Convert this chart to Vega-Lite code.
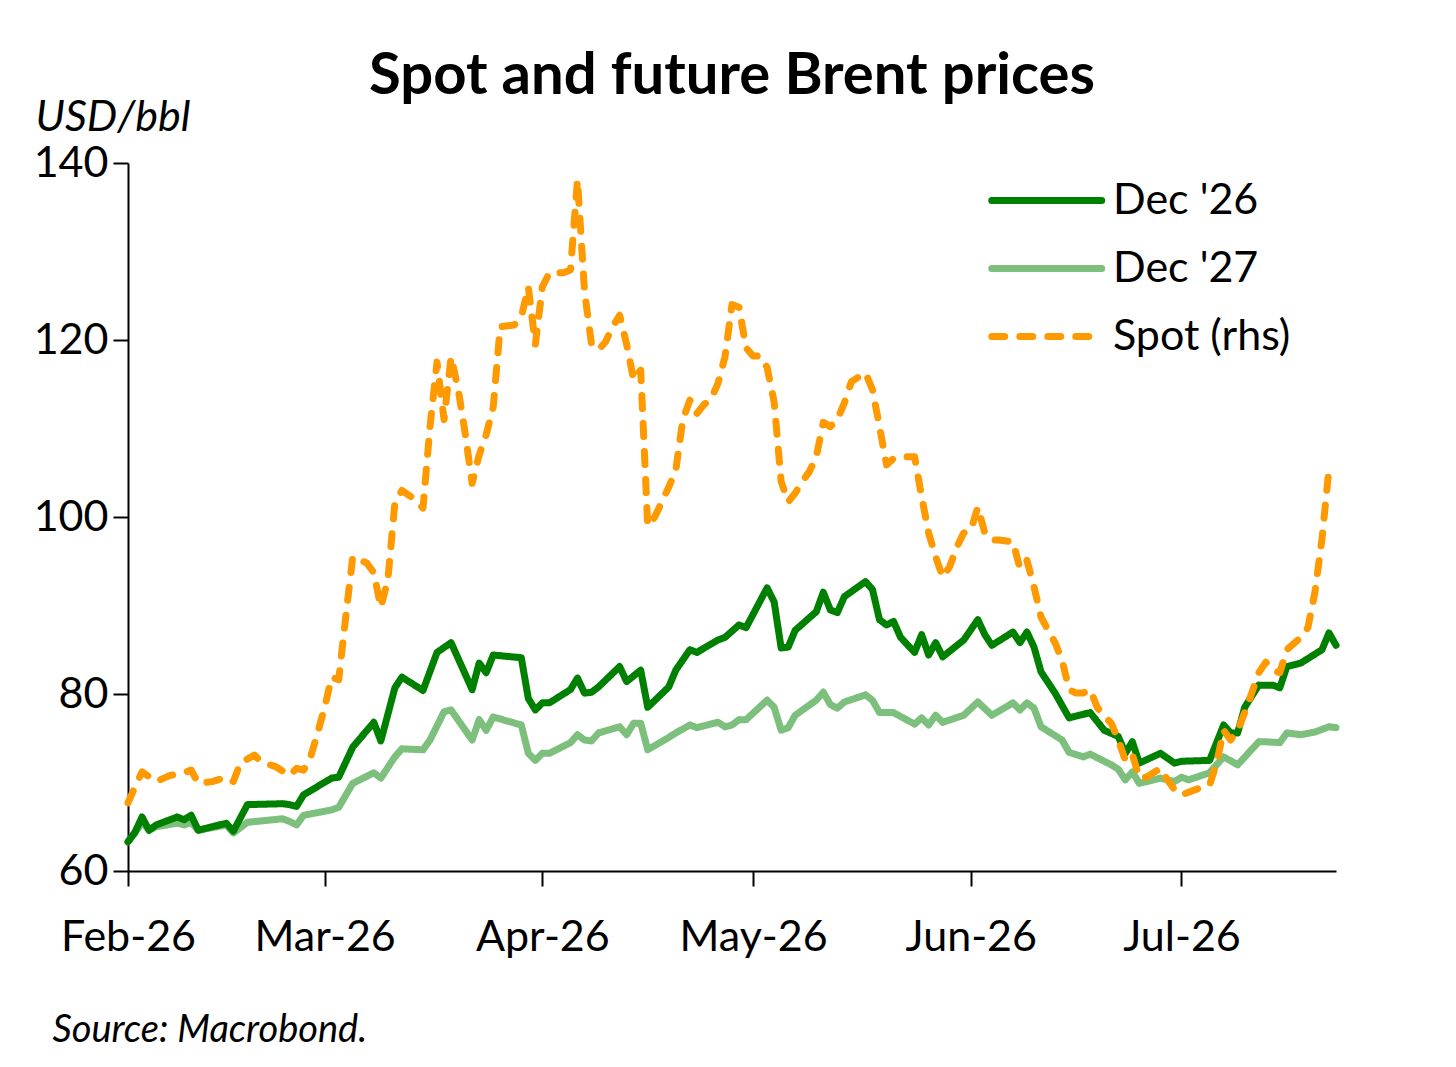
{
  "$schema": "https://vega.github.io/schema/vega-lite/v6.json",
  "autosize": "none",
  "width": 1208,
  "height": 708,
  "padding": {"left": 128, "top": 163, "right": 120, "bottom": 196},
  "background": "white",
  "title": {
    "text": "Spot and future Brent prices",
    "font": "Lato",
    "fontSize": 58,
    "fontWeight": "bold",
    "color": "black",
    "anchor": "middle",
    "frame": "group",
    "offset": -10
  },
  "data": {
    "values": [
      {"s": "Dec '27", "d": "2026-02-01", "v": 63.3},
      {"s": "Dec '27", "d": "2026-02-02", "v": 64.3},
      {"s": "Dec '27", "d": "2026-02-03", "v": 65.5},
      {"s": "Dec '27", "d": "2026-02-04", "v": 64.6},
      {"s": "Dec '27", "d": "2026-02-05", "v": 65.0},
      {"s": "Dec '27", "d": "2026-02-08", "v": 65.4},
      {"s": "Dec '27", "d": "2026-02-09", "v": 65.2},
      {"s": "Dec '27", "d": "2026-02-10", "v": 65.5},
      {"s": "Dec '27", "d": "2026-02-11", "v": 64.6},
      {"s": "Dec '27", "d": "2026-02-15", "v": 65.2},
      {"s": "Dec '27", "d": "2026-02-16", "v": 64.3},
      {"s": "Dec '27", "d": "2026-02-18", "v": 65.5},
      {"s": "Dec '27", "d": "2026-02-23", "v": 65.9},
      {"s": "Dec '27", "d": "2026-02-24", "v": 65.6},
      {"s": "Dec '27", "d": "2026-02-25", "v": 65.2},
      {"s": "Dec '27", "d": "2026-02-26", "v": 66.3},
      {"s": "Dec '27", "d": "2026-03-02", "v": 66.9},
      {"s": "Dec '27", "d": "2026-03-03", "v": 67.2},
      {"s": "Dec '27", "d": "2026-03-05", "v": 69.9},
      {"s": "Dec '27", "d": "2026-03-08", "v": 71.1},
      {"s": "Dec '27", "d": "2026-03-09", "v": 70.5},
      {"s": "Dec '27", "d": "2026-03-11", "v": 72.9},
      {"s": "Dec '27", "d": "2026-03-12", "v": 73.8},
      {"s": "Dec '27", "d": "2026-03-15", "v": 73.7},
      {"s": "Dec '27", "d": "2026-03-16", "v": 74.8},
      {"s": "Dec '27", "d": "2026-03-18", "v": 78.0},
      {"s": "Dec '27", "d": "2026-03-19", "v": 78.2},
      {"s": "Dec '27", "d": "2026-03-22", "v": 74.8},
      {"s": "Dec '27", "d": "2026-03-23", "v": 77.1},
      {"s": "Dec '27", "d": "2026-03-24", "v": 75.9},
      {"s": "Dec '27", "d": "2026-03-25", "v": 77.4},
      {"s": "Dec '27", "d": "2026-03-29", "v": 76.5},
      {"s": "Dec '27", "d": "2026-03-30", "v": 73.3},
      {"s": "Dec '27", "d": "2026-03-31", "v": 72.5},
      {"s": "Dec '27", "d": "2026-04-01", "v": 73.3},
      {"s": "Dec '27", "d": "2026-04-02", "v": 73.3},
      {"s": "Dec '27", "d": "2026-04-05", "v": 74.5},
      {"s": "Dec '27", "d": "2026-04-06", "v": 75.4},
      {"s": "Dec '27", "d": "2026-04-07", "v": 74.8},
      {"s": "Dec '27", "d": "2026-04-08", "v": 74.7},
      {"s": "Dec '27", "d": "2026-04-09", "v": 75.6},
      {"s": "Dec '27", "d": "2026-04-12", "v": 76.3},
      {"s": "Dec '27", "d": "2026-04-13", "v": 75.4},
      {"s": "Dec '27", "d": "2026-04-14", "v": 76.7},
      {"s": "Dec '27", "d": "2026-04-15", "v": 76.7},
      {"s": "Dec '27", "d": "2026-04-16", "v": 73.7},
      {"s": "Dec '27", "d": "2026-04-19", "v": 75.1},
      {"s": "Dec '27", "d": "2026-04-20", "v": 75.6},
      {"s": "Dec '27", "d": "2026-04-22", "v": 76.5},
      {"s": "Dec '27", "d": "2026-04-23", "v": 76.2},
      {"s": "Dec '27", "d": "2026-04-26", "v": 76.8},
      {"s": "Dec '27", "d": "2026-04-27", "v": 76.3},
      {"s": "Dec '27", "d": "2026-04-28", "v": 76.5},
      {"s": "Dec '27", "d": "2026-04-29", "v": 77.1},
      {"s": "Dec '27", "d": "2026-04-30", "v": 77.1},
      {"s": "Dec '27", "d": "2026-05-03", "v": 79.3},
      {"s": "Dec '27", "d": "2026-05-04", "v": 78.5},
      {"s": "Dec '27", "d": "2026-05-05", "v": 75.9},
      {"s": "Dec '27", "d": "2026-05-06", "v": 76.2},
      {"s": "Dec '27", "d": "2026-05-07", "v": 77.6},
      {"s": "Dec '27", "d": "2026-05-10", "v": 79.3},
      {"s": "Dec '27", "d": "2026-05-11", "v": 80.2},
      {"s": "Dec '27", "d": "2026-05-12", "v": 78.8},
      {"s": "Dec '27", "d": "2026-05-13", "v": 78.4},
      {"s": "Dec '27", "d": "2026-05-14", "v": 79.1},
      {"s": "Dec '27", "d": "2026-05-17", "v": 79.9},
      {"s": "Dec '27", "d": "2026-05-18", "v": 79.3},
      {"s": "Dec '27", "d": "2026-05-19", "v": 77.9},
      {"s": "Dec '27", "d": "2026-05-21", "v": 77.9},
      {"s": "Dec '27", "d": "2026-05-24", "v": 76.6},
      {"s": "Dec '27", "d": "2026-05-25", "v": 77.3},
      {"s": "Dec '27", "d": "2026-05-26", "v": 76.5},
      {"s": "Dec '27", "d": "2026-05-27", "v": 77.6},
      {"s": "Dec '27", "d": "2026-05-28", "v": 76.8},
      {"s": "Dec '27", "d": "2026-05-31", "v": 77.6},
      {"s": "Dec '27", "d": "2026-06-02", "v": 79.1},
      {"s": "Dec '27", "d": "2026-06-04", "v": 77.6},
      {"s": "Dec '27", "d": "2026-06-07", "v": 79.0},
      {"s": "Dec '27", "d": "2026-06-08", "v": 78.2},
      {"s": "Dec '27", "d": "2026-06-09", "v": 79.0},
      {"s": "Dec '27", "d": "2026-06-10", "v": 78.4},
      {"s": "Dec '27", "d": "2026-06-11", "v": 76.3},
      {"s": "Dec '27", "d": "2026-06-14", "v": 74.8},
      {"s": "Dec '27", "d": "2026-06-15", "v": 73.4},
      {"s": "Dec '27", "d": "2026-06-17", "v": 72.9},
      {"s": "Dec '27", "d": "2026-06-18", "v": 73.2},
      {"s": "Dec '27", "d": "2026-06-21", "v": 72.0},
      {"s": "Dec '27", "d": "2026-06-22", "v": 71.5},
      {"s": "Dec '27", "d": "2026-06-23", "v": 70.3},
      {"s": "Dec '27", "d": "2026-06-24", "v": 71.2},
      {"s": "Dec '27", "d": "2026-06-25", "v": 69.9},
      {"s": "Dec '27", "d": "2026-06-28", "v": 70.5},
      {"s": "Dec '27", "d": "2026-06-30", "v": 70.1},
      {"s": "Dec '27", "d": "2026-07-01", "v": 70.6},
      {"s": "Dec '27", "d": "2026-07-02", "v": 70.3},
      {"s": "Dec '27", "d": "2026-07-05", "v": 71.1},
      {"s": "Dec '27", "d": "2026-07-07", "v": 72.9},
      {"s": "Dec '27", "d": "2026-07-09", "v": 72.0},
      {"s": "Dec '27", "d": "2026-07-12", "v": 74.6},
      {"s": "Dec '27", "d": "2026-07-13", "v": 74.6},
      {"s": "Dec '27", "d": "2026-07-15", "v": 74.5},
      {"s": "Dec '27", "d": "2026-07-16", "v": 75.6},
      {"s": "Dec '27", "d": "2026-07-18", "v": 75.4},
      {"s": "Dec '27", "d": "2026-07-20", "v": 75.7},
      {"s": "Dec '27", "d": "2026-07-22", "v": 76.3},
      {"s": "Dec '27", "d": "2026-07-23", "v": 76.2},

      {"s": "Dec '26", "d": "2026-02-01", "v": 63.3},
      {"s": "Dec '26", "d": "2026-02-02", "v": 64.4},
      {"s": "Dec '26", "d": "2026-02-03", "v": 66.1},
      {"s": "Dec '26", "d": "2026-02-04", "v": 64.6},
      {"s": "Dec '26", "d": "2026-02-05", "v": 65.2},
      {"s": "Dec '26", "d": "2026-02-08", "v": 66.1},
      {"s": "Dec '26", "d": "2026-02-09", "v": 65.8},
      {"s": "Dec '26", "d": "2026-02-10", "v": 66.3},
      {"s": "Dec '26", "d": "2026-02-11", "v": 64.6},
      {"s": "Dec '26", "d": "2026-02-15", "v": 65.4},
      {"s": "Dec '26", "d": "2026-02-16", "v": 64.5},
      {"s": "Dec '26", "d": "2026-02-18", "v": 67.5},
      {"s": "Dec '26", "d": "2026-02-23", "v": 67.6},
      {"s": "Dec '26", "d": "2026-02-24", "v": 67.5},
      {"s": "Dec '26", "d": "2026-02-25", "v": 67.3},
      {"s": "Dec '26", "d": "2026-02-26", "v": 68.6},
      {"s": "Dec '26", "d": "2026-03-02", "v": 70.5},
      {"s": "Dec '26", "d": "2026-03-03", "v": 70.6},
      {"s": "Dec '26", "d": "2026-03-05", "v": 74.0},
      {"s": "Dec '26", "d": "2026-03-08", "v": 76.8},
      {"s": "Dec '26", "d": "2026-03-09", "v": 74.7},
      {"s": "Dec '26", "d": "2026-03-11", "v": 80.7},
      {"s": "Dec '26", "d": "2026-03-12", "v": 81.9},
      {"s": "Dec '26", "d": "2026-03-15", "v": 80.4},
      {"s": "Dec '26", "d": "2026-03-17", "v": 84.7},
      {"s": "Dec '26", "d": "2026-03-19", "v": 85.8},
      {"s": "Dec '26", "d": "2026-03-22", "v": 80.5},
      {"s": "Dec '26", "d": "2026-03-23", "v": 83.5},
      {"s": "Dec '26", "d": "2026-03-24", "v": 82.4},
      {"s": "Dec '26", "d": "2026-03-25", "v": 84.4},
      {"s": "Dec '26", "d": "2026-03-29", "v": 84.1},
      {"s": "Dec '26", "d": "2026-03-30", "v": 79.5},
      {"s": "Dec '26", "d": "2026-03-31", "v": 78.2},
      {"s": "Dec '26", "d": "2026-04-01", "v": 79.0},
      {"s": "Dec '26", "d": "2026-04-02", "v": 79.0},
      {"s": "Dec '26", "d": "2026-04-05", "v": 80.5},
      {"s": "Dec '26", "d": "2026-04-06", "v": 81.8},
      {"s": "Dec '26", "d": "2026-04-07", "v": 80.1},
      {"s": "Dec '26", "d": "2026-04-08", "v": 80.2},
      {"s": "Dec '26", "d": "2026-04-09", "v": 80.8},
      {"s": "Dec '26", "d": "2026-04-12", "v": 83.1},
      {"s": "Dec '26", "d": "2026-04-13", "v": 81.4},
      {"s": "Dec '26", "d": "2026-04-15", "v": 82.7},
      {"s": "Dec '26", "d": "2026-04-16", "v": 78.5},
      {"s": "Dec '26", "d": "2026-04-19", "v": 80.8},
      {"s": "Dec '26", "d": "2026-04-20", "v": 82.7},
      {"s": "Dec '26", "d": "2026-04-22", "v": 85.0},
      {"s": "Dec '26", "d": "2026-04-23", "v": 84.7},
      {"s": "Dec '26", "d": "2026-04-26", "v": 86.1},
      {"s": "Dec '26", "d": "2026-04-27", "v": 86.4},
      {"s": "Dec '26", "d": "2026-04-29", "v": 87.8},
      {"s": "Dec '26", "d": "2026-04-30", "v": 87.5},
      {"s": "Dec '26", "d": "2026-05-03", "v": 92.0},
      {"s": "Dec '26", "d": "2026-05-04", "v": 90.4},
      {"s": "Dec '26", "d": "2026-05-05", "v": 85.2},
      {"s": "Dec '26", "d": "2026-05-06", "v": 85.3},
      {"s": "Dec '26", "d": "2026-05-07", "v": 87.2},
      {"s": "Dec '26", "d": "2026-05-10", "v": 89.3},
      {"s": "Dec '26", "d": "2026-05-11", "v": 91.5},
      {"s": "Dec '26", "d": "2026-05-12", "v": 89.5},
      {"s": "Dec '26", "d": "2026-05-13", "v": 89.2},
      {"s": "Dec '26", "d": "2026-05-14", "v": 91.0},
      {"s": "Dec '26", "d": "2026-05-17", "v": 92.7},
      {"s": "Dec '26", "d": "2026-05-18", "v": 91.8},
      {"s": "Dec '26", "d": "2026-05-19", "v": 88.4},
      {"s": "Dec '26", "d": "2026-05-20", "v": 87.8},
      {"s": "Dec '26", "d": "2026-05-21", "v": 88.2},
      {"s": "Dec '26", "d": "2026-05-22", "v": 86.4},
      {"s": "Dec '26", "d": "2026-05-24", "v": 84.7},
      {"s": "Dec '26", "d": "2026-05-25", "v": 86.7},
      {"s": "Dec '26", "d": "2026-05-26", "v": 84.4},
      {"s": "Dec '26", "d": "2026-05-27", "v": 85.8},
      {"s": "Dec '26", "d": "2026-05-28", "v": 84.2},
      {"s": "Dec '26", "d": "2026-05-31", "v": 86.1},
      {"s": "Dec '26", "d": "2026-06-02", "v": 88.4},
      {"s": "Dec '26", "d": "2026-06-03", "v": 86.7},
      {"s": "Dec '26", "d": "2026-06-04", "v": 85.5},
      {"s": "Dec '26", "d": "2026-06-07", "v": 87.0},
      {"s": "Dec '26", "d": "2026-06-08", "v": 85.8},
      {"s": "Dec '26", "d": "2026-06-09", "v": 87.0},
      {"s": "Dec '26", "d": "2026-06-10", "v": 85.3},
      {"s": "Dec '26", "d": "2026-06-11", "v": 82.5},
      {"s": "Dec '26", "d": "2026-06-13", "v": 80.1},
      {"s": "Dec '26", "d": "2026-06-15", "v": 77.3},
      {"s": "Dec '26", "d": "2026-06-18", "v": 77.9},
      {"s": "Dec '26", "d": "2026-06-20", "v": 75.9},
      {"s": "Dec '26", "d": "2026-06-22", "v": 75.2},
      {"s": "Dec '26", "d": "2026-06-23", "v": 73.3},
      {"s": "Dec '26", "d": "2026-06-24", "v": 74.6},
      {"s": "Dec '26", "d": "2026-06-25", "v": 72.2},
      {"s": "Dec '26", "d": "2026-06-28", "v": 73.3},
      {"s": "Dec '26", "d": "2026-06-30", "v": 72.2},
      {"s": "Dec '26", "d": "2026-07-01", "v": 72.4},
      {"s": "Dec '26", "d": "2026-07-05", "v": 72.5},
      {"s": "Dec '26", "d": "2026-07-07", "v": 76.5},
      {"s": "Dec '26", "d": "2026-07-08", "v": 75.6},
      {"s": "Dec '26", "d": "2026-07-09", "v": 75.6},
      {"s": "Dec '26", "d": "2026-07-10", "v": 78.5},
      {"s": "Dec '26", "d": "2026-07-12", "v": 81.0},
      {"s": "Dec '26", "d": "2026-07-14", "v": 81.0},
      {"s": "Dec '26", "d": "2026-07-15", "v": 80.7},
      {"s": "Dec '26", "d": "2026-07-16", "v": 83.1},
      {"s": "Dec '26", "d": "2026-07-18", "v": 83.5},
      {"s": "Dec '26", "d": "2026-07-21", "v": 85.0},
      {"s": "Dec '26", "d": "2026-07-22", "v": 86.9},
      {"s": "Dec '26", "d": "2026-07-23", "v": 85.5},

      {"s": "Spot (rhs)", "d": "2026-02-01", "v": 67.7},
      {"s": "Spot (rhs)", "d": "2026-02-02", "v": 69.5},
      {"s": "Spot (rhs)", "d": "2026-02-03", "v": 71.2},
      {"s": "Spot (rhs)", "d": "2026-02-05", "v": 70.1},
      {"s": "Spot (rhs)", "d": "2026-02-07", "v": 70.8},
      {"s": "Spot (rhs)", "d": "2026-02-09", "v": 71.1},
      {"s": "Spot (rhs)", "d": "2026-02-10", "v": 71.4},
      {"s": "Spot (rhs)", "d": "2026-02-11", "v": 69.9},
      {"s": "Spot (rhs)", "d": "2026-02-13", "v": 70.1},
      {"s": "Spot (rhs)", "d": "2026-02-15", "v": 70.6},
      {"s": "Spot (rhs)", "d": "2026-02-16", "v": 70.1},
      {"s": "Spot (rhs)", "d": "2026-02-17", "v": 72.2},
      {"s": "Spot (rhs)", "d": "2026-02-19", "v": 73.1},
      {"s": "Spot (rhs)", "d": "2026-02-20", "v": 72.3},
      {"s": "Spot (rhs)", "d": "2026-02-22", "v": 71.8},
      {"s": "Spot (rhs)", "d": "2026-02-24", "v": 70.8},
      {"s": "Spot (rhs)", "d": "2026-02-25", "v": 71.6},
      {"s": "Spot (rhs)", "d": "2026-02-26", "v": 71.4},
      {"s": "Spot (rhs)", "d": "2026-02-27", "v": 72.9},
      {"s": "Spot (rhs)", "d": "2026-02-28", "v": 75.6},
      {"s": "Spot (rhs)", "d": "2026-03-01", "v": 78.5},
      {"s": "Spot (rhs)", "d": "2026-03-02", "v": 81.9},
      {"s": "Spot (rhs)", "d": "2026-03-03", "v": 81.6},
      {"s": "Spot (rhs)", "d": "2026-03-04", "v": 88.7},
      {"s": "Spot (rhs)", "d": "2026-03-05", "v": 95.5},
      {"s": "Spot (rhs)", "d": "2026-03-07", "v": 94.8},
      {"s": "Spot (rhs)", "d": "2026-03-08", "v": 93.7},
      {"s": "Spot (rhs)", "d": "2026-03-09", "v": 89.8},
      {"s": "Spot (rhs)", "d": "2026-03-10", "v": 92.9},
      {"s": "Spot (rhs)", "d": "2026-03-11", "v": 101.6},
      {"s": "Spot (rhs)", "d": "2026-03-12", "v": 103.0},
      {"s": "Spot (rhs)", "d": "2026-03-14", "v": 101.9},
      {"s": "Spot (rhs)", "d": "2026-03-15", "v": 101.0},
      {"s": "Spot (rhs)", "d": "2026-03-16", "v": 110.2},
      {"s": "Spot (rhs)", "d": "2026-03-17", "v": 117.5},
      {"s": "Spot (rhs)", "d": "2026-03-18", "v": 111.0},
      {"s": "Spot (rhs)", "d": "2026-03-19", "v": 118.1},
      {"s": "Spot (rhs)", "d": "2026-03-20", "v": 114.5},
      {"s": "Spot (rhs)", "d": "2026-03-21", "v": 109.5},
      {"s": "Spot (rhs)", "d": "2026-03-22", "v": 103.8},
      {"s": "Spot (rhs)", "d": "2026-03-23", "v": 107.0},
      {"s": "Spot (rhs)", "d": "2026-03-24", "v": 109.3},
      {"s": "Spot (rhs)", "d": "2026-03-25", "v": 112.4},
      {"s": "Spot (rhs)", "d": "2026-03-26", "v": 121.5},
      {"s": "Spot (rhs)", "d": "2026-03-28", "v": 121.7},
      {"s": "Spot (rhs)", "d": "2026-03-29", "v": 122.6},
      {"s": "Spot (rhs)", "d": "2026-03-30", "v": 126.0},
      {"s": "Spot (rhs)", "d": "2026-03-31", "v": 119.5},
      {"s": "Spot (rhs)", "d": "2026-04-01", "v": 126.0},
      {"s": "Spot (rhs)", "d": "2026-04-02", "v": 127.6},
      {"s": "Spot (rhs)", "d": "2026-04-04", "v": 127.6},
      {"s": "Spot (rhs)", "d": "2026-04-05", "v": 127.9},
      {"s": "Spot (rhs)", "d": "2026-04-06", "v": 138.1},
      {"s": "Spot (rhs)", "d": "2026-04-07", "v": 125.5},
      {"s": "Spot (rhs)", "d": "2026-04-08", "v": 119.5},
      {"s": "Spot (rhs)", "d": "2026-04-09", "v": 118.9},
      {"s": "Spot (rhs)", "d": "2026-04-10", "v": 119.8},
      {"s": "Spot (rhs)", "d": "2026-04-11", "v": 121.5},
      {"s": "Spot (rhs)", "d": "2026-04-12", "v": 122.8},
      {"s": "Spot (rhs)", "d": "2026-04-13", "v": 119.5},
      {"s": "Spot (rhs)", "d": "2026-04-14", "v": 115.5},
      {"s": "Spot (rhs)", "d": "2026-04-15", "v": 116.6},
      {"s": "Spot (rhs)", "d": "2026-04-16", "v": 99.0},
      {"s": "Spot (rhs)", "d": "2026-04-17", "v": 100.0},
      {"s": "Spot (rhs)", "d": "2026-04-18", "v": 101.7},
      {"s": "Spot (rhs)", "d": "2026-04-19", "v": 103.4},
      {"s": "Spot (rhs)", "d": "2026-04-20", "v": 105.3},
      {"s": "Spot (rhs)", "d": "2026-04-21", "v": 111.0},
      {"s": "Spot (rhs)", "d": "2026-04-22", "v": 113.2},
      {"s": "Spot (rhs)", "d": "2026-04-23", "v": 111.7},
      {"s": "Spot (rhs)", "d": "2026-04-24", "v": 112.7},
      {"s": "Spot (rhs)", "d": "2026-04-25", "v": 113.3},
      {"s": "Spot (rhs)", "d": "2026-04-26", "v": 115.1},
      {"s": "Spot (rhs)", "d": "2026-04-27", "v": 118.1},
      {"s": "Spot (rhs)", "d": "2026-04-28", "v": 124.0},
      {"s": "Spot (rhs)", "d": "2026-04-29", "v": 123.7},
      {"s": "Spot (rhs)", "d": "2026-04-30", "v": 119.1},
      {"s": "Spot (rhs)", "d": "2026-05-01", "v": 118.2},
      {"s": "Spot (rhs)", "d": "2026-05-02", "v": 118.2},
      {"s": "Spot (rhs)", "d": "2026-05-03", "v": 116.9},
      {"s": "Spot (rhs)", "d": "2026-05-04", "v": 113.0},
      {"s": "Spot (rhs)", "d": "2026-05-05", "v": 104.0},
      {"s": "Spot (rhs)", "d": "2026-05-06", "v": 101.7},
      {"s": "Spot (rhs)", "d": "2026-05-07", "v": 102.7},
      {"s": "Spot (rhs)", "d": "2026-05-08", "v": 104.0},
      {"s": "Spot (rhs)", "d": "2026-05-09", "v": 105.1},
      {"s": "Spot (rhs)", "d": "2026-05-10", "v": 106.8},
      {"s": "Spot (rhs)", "d": "2026-05-11", "v": 110.7},
      {"s": "Spot (rhs)", "d": "2026-05-12", "v": 110.2},
      {"s": "Spot (rhs)", "d": "2026-05-13", "v": 111.0},
      {"s": "Spot (rhs)", "d": "2026-05-14", "v": 112.9},
      {"s": "Spot (rhs)", "d": "2026-05-15", "v": 115.3},
      {"s": "Spot (rhs)", "d": "2026-05-16", "v": 115.8},
      {"s": "Spot (rhs)", "d": "2026-05-17", "v": 116.3},
      {"s": "Spot (rhs)", "d": "2026-05-18", "v": 114.4},
      {"s": "Spot (rhs)", "d": "2026-05-19", "v": 110.2},
      {"s": "Spot (rhs)", "d": "2026-05-20", "v": 105.9},
      {"s": "Spot (rhs)", "d": "2026-05-21", "v": 106.6},
      {"s": "Spot (rhs)", "d": "2026-05-22", "v": 106.8},
      {"s": "Spot (rhs)", "d": "2026-05-24", "v": 106.8},
      {"s": "Spot (rhs)", "d": "2026-05-25", "v": 102.3},
      {"s": "Spot (rhs)", "d": "2026-05-26", "v": 98.2},
      {"s": "Spot (rhs)", "d": "2026-05-27", "v": 95.5},
      {"s": "Spot (rhs)", "d": "2026-05-28", "v": 93.2},
      {"s": "Spot (rhs)", "d": "2026-05-29", "v": 94.4},
      {"s": "Spot (rhs)", "d": "2026-05-30", "v": 96.6},
      {"s": "Spot (rhs)", "d": "2026-05-31", "v": 98.2},
      {"s": "Spot (rhs)", "d": "2026-06-01", "v": 98.5},
      {"s": "Spot (rhs)", "d": "2026-06-02", "v": 101.1},
      {"s": "Spot (rhs)", "d": "2026-06-03", "v": 98.2},
      {"s": "Spot (rhs)", "d": "2026-06-04", "v": 97.4},
      {"s": "Spot (rhs)", "d": "2026-06-05", "v": 97.4},
      {"s": "Spot (rhs)", "d": "2026-06-07", "v": 97.2},
      {"s": "Spot (rhs)", "d": "2026-06-08", "v": 94.2},
      {"s": "Spot (rhs)", "d": "2026-06-09", "v": 95.1},
      {"s": "Spot (rhs)", "d": "2026-06-10", "v": 92.1},
      {"s": "Spot (rhs)", "d": "2026-06-11", "v": 88.7},
      {"s": "Spot (rhs)", "d": "2026-06-12", "v": 87.2},
      {"s": "Spot (rhs)", "d": "2026-06-13", "v": 85.8},
      {"s": "Spot (rhs)", "d": "2026-06-14", "v": 83.8},
      {"s": "Spot (rhs)", "d": "2026-06-15", "v": 80.5},
      {"s": "Spot (rhs)", "d": "2026-06-16", "v": 80.1},
      {"s": "Spot (rhs)", "d": "2026-06-17", "v": 80.1},
      {"s": "Spot (rhs)", "d": "2026-06-18", "v": 80.5},
      {"s": "Spot (rhs)", "d": "2026-06-19", "v": 78.5},
      {"s": "Spot (rhs)", "d": "2026-06-20", "v": 77.5},
      {"s": "Spot (rhs)", "d": "2026-06-21", "v": 76.7},
      {"s": "Spot (rhs)", "d": "2026-06-22", "v": 74.8},
      {"s": "Spot (rhs)", "d": "2026-06-23", "v": 72.5},
      {"s": "Spot (rhs)", "d": "2026-06-24", "v": 73.2},
      {"s": "Spot (rhs)", "d": "2026-06-25", "v": 70.5},
      {"s": "Spot (rhs)", "d": "2026-06-26", "v": 70.6},
      {"s": "Spot (rhs)", "d": "2026-06-28", "v": 71.6},
      {"s": "Spot (rhs)", "d": "2026-06-29", "v": 70.3},
      {"s": "Spot (rhs)", "d": "2026-06-30", "v": 69.2},
      {"s": "Spot (rhs)", "d": "2026-07-01", "v": 68.6},
      {"s": "Spot (rhs)", "d": "2026-07-03", "v": 69.2},
      {"s": "Spot (rhs)", "d": "2026-07-05", "v": 69.7},
      {"s": "Spot (rhs)", "d": "2026-07-06", "v": 72.2},
      {"s": "Spot (rhs)", "d": "2026-07-07", "v": 75.9},
      {"s": "Spot (rhs)", "d": "2026-07-08", "v": 74.8},
      {"s": "Spot (rhs)", "d": "2026-07-09", "v": 75.9},
      {"s": "Spot (rhs)", "d": "2026-07-10", "v": 77.9},
      {"s": "Spot (rhs)", "d": "2026-07-11", "v": 80.1},
      {"s": "Spot (rhs)", "d": "2026-07-12", "v": 82.4},
      {"s": "Spot (rhs)", "d": "2026-07-13", "v": 83.6},
      {"s": "Spot (rhs)", "d": "2026-07-14", "v": 82.7},
      {"s": "Spot (rhs)", "d": "2026-07-15", "v": 82.4},
      {"s": "Spot (rhs)", "d": "2026-07-16", "v": 85.0},
      {"s": "Spot (rhs)", "d": "2026-07-18", "v": 86.4},
      {"s": "Spot (rhs)", "d": "2026-07-19", "v": 87.5},
      {"s": "Spot (rhs)", "d": "2026-07-20", "v": 91.5},
      {"s": "Spot (rhs)", "d": "2026-07-21", "v": 97.5},
      {"s": "Spot (rhs)", "d": "2026-07-22", "v": 105.5}
    ]
  },
  "mark": {"type": "line", "strokeWidth": 7, "strokeCap": "round", "strokeJoin": "round"},
  "encoding": {
    "x": {
      "field": "d",
      "type": "temporal",
      "scale": {
        "type": "utc",
        "domain": [
          {"year": 2026, "month": 2, "date": 1, "utc": true},
          {"year": 2026, "month": 7, "date": 23, "utc": true}
        ]
      },
      "axis": {
        "format": "%b-%y",
        "tickCount": {"interval": "month", "step": 1},
        "grid": false,
        "domainColor": "black",
        "domainWidth": 2,
        "tickColor": "black",
        "tickWidth": 2,
        "tickSize": 15,
        "labelFont": "Lato",
        "labelFontSize": 43,
        "labelColor": "black",
        "labelPadding": 30,
        "labelFlush": false,
        "labelOverlap": false,
        "title": "Source: Macrobond.",
        "titleFont": "Lato",
        "titleFontSize": 38,
        "titleFontStyle": "italic",
        "titleFontWeight": "normal",
        "titleColor": "black",
        "titleAlign": "left",
        "titleBaseline": "alphabetic",
        "titleX": -76,
        "titleY": 170
      }
    },
    "y": {
      "field": "v",
      "type": "quantitative",
      "scale": {"domain": [60, 140], "nice": false, "zero": false},
      "axis": {
        "values": [60, 80, 100, 120, 140],
        "grid": false,
        "domainColor": "black",
        "domainWidth": 2,
        "tickColor": "black",
        "tickWidth": 2,
        "tickSize": 15,
        "labelFont": "Lato",
        "labelFontSize": 43,
        "labelColor": "black",
        "labelPadding": 5,
        "labelFlush": false,
        "title": "USD/bbl",
        "titleFont": "Lato",
        "titleFontSize": 43,
        "titleFontStyle": "italic",
        "titleFontWeight": "normal",
        "titleColor": "black",
        "titleAngle": 0,
        "titleAlign": "left",
        "titleBaseline": "alphabetic",
        "titleX": -93,
        "titleY": -33
      }
    },
    "color": {
      "field": "s",
      "type": "nominal",
      "scale": {
        "domain": ["Dec '26", "Dec '27", "Spot (rhs)"],
        "range": ["#008000", "#7dbf7d", "#ff9900"]
      },
      "legend": {
        "title": null,
        "orient": "none",
        "legendX": 856,
        "legendY": 16,
        "symbolType": "M-1,0H7",
        "symbolSize": 756,
        "symbolStrokeWidth": 7,
        "labelFont": "Lato",
        "labelFontSize": 43,
        "labelColor": "black",
        "labelOffset": 86,
        "labelLimit": 0,
        "rowPadding": 24,
        "encode": {"symbols": {"update": {"strokeCap": {"value": "round"}}}}
      }
    },
    "strokeDash": {
      "field": "s",
      "type": "nominal",
      "scale": {
        "domain": ["Dec '26", "Dec '27", "Spot (rhs)"],
        "range": [[1, 0], [1, 0], [13, 15]]
      },
      "legend": {
        "title": null,
        "orient": "none",
        "legendX": 856,
        "legendY": 16,
        "symbolType": "M-1,0H7",
        "symbolSize": 756,
        "symbolStrokeWidth": 7,
        "labelFont": "Lato",
        "labelFontSize": 43,
        "labelColor": "black",
        "labelOffset": 86,
        "labelLimit": 0,
        "rowPadding": 24,
        "encode": {"symbols": {"update": {"strokeCap": {"value": "round"}}}}
      }
    }
  },
  "config": {
    "view": {"stroke": null},
    "font": "Lato"
  }
}
